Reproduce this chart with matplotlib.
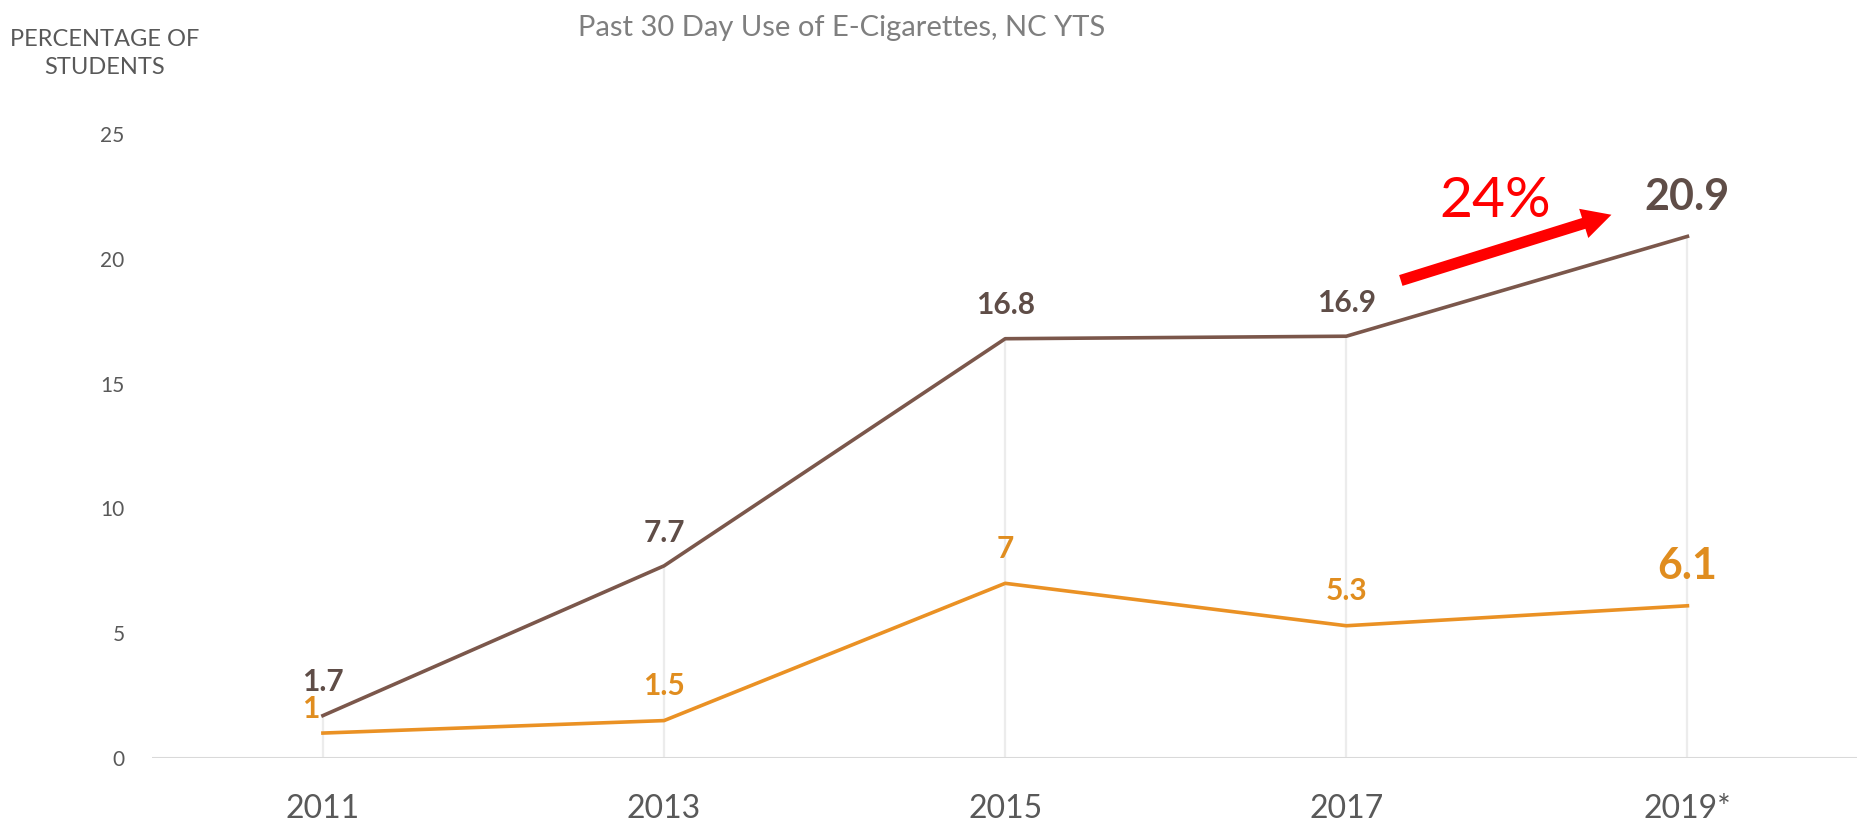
import matplotlib.pyplot as plt
import numpy as np

plt.rcParams['font.family'] = ['Lato', 'DejaVu Sans']

years = ['2011', '2013', '2015', '2017', '2019*']
high_school = [1.7, 7.7, 16.8, 16.9, 20.9]
middle_school = [1.0, 1.5, 7.0, 5.3, 6.1]
y_ticks = [0, 5, 10, 15, 20, 25]

brown = '#7b574b'
brown_text = '#5f4d47'
orange = '#ea9124'
orange_text = '#e08d1f'
grey_text = '#595959'

fig = plt.figure(figsize=(18.58, 8.27), dpi=100, facecolor='white')
ax = fig.add_axes([0.082, 0.0834, 0.918, 0.7545])
x = np.arange(len(years))

# drop lines from the upper series down to the axis
ax.vlines(x, 0, high_school, color='#ececec', lw=1.6, zorder=0)
ax.axhline(0, color='#d9d9d9', lw=2.2, zorder=1)

ax.plot(x, high_school, color=brown, lw=2.6, zorder=3)
ax.plot(x, middle_school, color=orange, lw=2.6, zorder=3)

# value labels
for i, v in enumerate(high_school):
    last = i == len(x) - 1
    ax.annotate(f'{v:g}', (x[i], v), xytext=(0, 28 if last else 24),
                textcoords='offset points', ha='center', va='center',
                fontsize=31 if last else 21.5, fontweight='bold', color=brown_text)
for i, v in enumerate(middle_school):
    last = i == len(x) - 1
    dx, dy = (-9, 17) if i == 0 else (0, 29 if last else 25)
    ax.annotate(f'{v:g}', (x[i], v), xytext=(dx, dy),
                textcoords='offset points', ha='center', va='center',
                fontsize=31 if last else 21.5, fontweight='bold', color=orange_text)

# growth arrow 2017 -> 2019
ax.annotate('', xy=(3.785, 21.8), xytext=(3.152, 19.1),
            arrowprops=dict(arrowstyle='simple,head_length=0.95,head_width=1.0,tail_width=0.37',
                            mutation_scale=22, color='#ff0000', lw=0))
ax.text(3.436, 22.3, '24%', ha='center', va='center', fontsize=41, color='#ff0000')

ax.set_xlim(-0.5, len(x) - 0.5)
ax.set_ylim(0, 25)
ax.set_xticks(x)
ax.set_xticklabels(years, fontsize=23, color=grey_text)
ax.set_yticks(y_ticks)
ax.set_yticklabels([str(t) for t in y_ticks], fontsize=15, color=grey_text)
ax.tick_params(axis='x', length=0, pad=26)
ax.tick_params(axis='y', length=0, pad=20)
for s in ax.spines.values():
    s.set_visible(False)

fig.text(0.453, 0.966, 'Past 30 Day Use of E-Cigarettes, NC YTS', ha='center', va='center',
         fontsize=21, color='#7f7f7f')
fig.text(0.0565, 0.935, 'PERCENTAGE OF\nSTUDENTS', ha='center', va='center',
         fontsize=17, color=grey_text, linespacing=1.4)

fig.savefig('out.png', dpi=100, facecolor='white')
